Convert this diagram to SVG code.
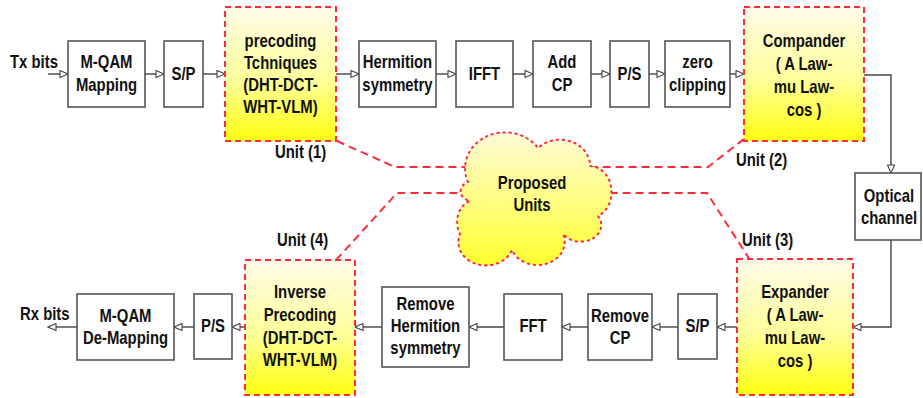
<svg xmlns="http://www.w3.org/2000/svg" width="923" height="398" viewBox="0 0 923 398">
<defs>
<linearGradient id="ug" x1="0" y1="0" x2="0" y2="1">
<stop offset="0" stop-color="#fffbe8"/>
<stop offset="0.55" stop-color="#ffff9a"/>
<stop offset="1" stop-color="#ffff10"/>
</linearGradient>
<linearGradient id="cg" x1="0" y1="0" x2="0" y2="1">
<stop offset="0" stop-color="#fffbd8"/>
<stop offset="1" stop-color="#ffff30"/>
</linearGradient>
<marker id="ar" markerUnits="userSpaceOnUse" markerWidth="11" markerHeight="9" refX="9.5" refY="4.5" orient="auto">
<path d="M1.5,1 L9.5,4.5 L1.5,8 Z" fill="#fff" stroke="#444" stroke-width="1.1"/>
</marker>
</defs>
<style>
.b{fill:#fff;stroke:#555;stroke-width:1.6}
.u{fill:url(#ug);stroke:#ff2a3a;stroke-width:2;stroke-dasharray:6,4}
.t{font-family:"Liberation Sans",Arial,sans-serif;font-weight:bold;font-size:17.5px;fill:#111;text-anchor:middle}
.l{font-family:"Liberation Sans",Arial,sans-serif;font-weight:bold;font-size:17.5px;fill:#111}
.c{fill:none;stroke:#444;stroke-width:1.4;marker-end:url(#ar)}
.r{fill:none;stroke:#ff2a3a;stroke-width:2;stroke-dasharray:8,5}
</style>

<g id="connectors">
<path class="c" d="M48,74 H68"/>
<path class="c" d="M145,74 H164"/>
<path class="c" d="M203,74 H225"/>
<path class="c" d="M336,74 H359"/>
<path class="c" d="M436,74 H456"/>
<path class="c" d="M513,74 H533"/>
<path class="c" d="M591,74 H610"/>
<path class="c" d="M649,74 H665"/>
<path class="c" d="M730,74 H744"/>
<path class="c" d="M864,75 H891 V173"/>
<path class="c" d="M891,240 V327 H853"/>
<path class="c" d="M737,327 H717"/>
<path class="c" d="M678,327 H652"/>
<path class="c" d="M588,327 H562"/>
<path class="c" d="M504,327 H469"/>
<path class="c" d="M382,327 H355"/>
<path class="c" d="M245,327 H232"/>
<path class="c" d="M194,327 H174"/>
<path class="c" d="M77,327 H48"/>
</g>

<g id="unit-links">
<path class="r" d="M337,141 L395,167 H468"/>
<path class="r" d="M744,139 L708,167 H592"/>
<path class="r" d="M336,260 L397,193 H466"/>
<path class="r" d="M750,260 L707,193 H607"/>
</g>

<text class="l" transform="translate(10 68) scale(.85 1)">Tx bits</text>
<text class="l" transform="translate(20 320) scale(.85 1)">Rx bits</text>

<g id="mqam-map"><rect class="b" x="68" y="41" width="77" height="66"/><text class="t" transform="translate(106.5 68) scale(.85 1)">M-QAM</text><text class="t" transform="translate(106.5 91) scale(.85 1)">Mapping</text></g>
<g id="sp1"><rect class="b" x="164" y="41" width="39" height="66"/><text class="t" transform="translate(183.5 80) scale(.85 1)">S/P</text></g>
<g id="precoding"><rect class="u" x="225" y="7" width="111" height="134"/><text class="t" transform="translate(280.5 47) scale(.85 1)">precoding</text><text class="t" transform="translate(280.5 69) scale(.85 1)">Tchniques</text><text class="t" transform="translate(280.5 91) scale(.85 1)">(DHT-DCT-</text><text class="t" transform="translate(280.5 113) scale(.85 1)">WHT-VLM)</text></g>
<g id="hermition"><rect class="b" x="359" y="41" width="77" height="66"/><text class="t" transform="translate(397.5 68) scale(.85 1)">Hermition</text><text class="t" transform="translate(397.5 91) scale(.85 1)">symmetry</text></g>
<g id="ifft"><rect class="b" x="456" y="41" width="57" height="66"/><text class="t" transform="translate(484.5 80) scale(.85 1)">IFFT</text></g>
<g id="addcp"><rect class="b" x="533" y="41" width="58" height="66"/><text class="t" transform="translate(562 68) scale(.85 1)">Add</text><text class="t" transform="translate(562 91) scale(.85 1)">CP</text></g>
<g id="ps1"><rect class="b" x="610" y="41" width="39" height="66"/><text class="t" transform="translate(629.5 80) scale(.85 1)">P/S</text></g>
<g id="zeroclip"><rect class="b" x="665" y="41" width="65" height="66"/><text class="t" transform="translate(697.5 68) scale(.85 1)">zero</text><text class="t" transform="translate(697.5 91) scale(.85 1)">clipping</text></g>
<g id="compander"><rect class="u" x="744" y="7" width="120" height="134"/><text class="t" transform="translate(804 47) scale(.85 1)">Compander</text><text class="t" transform="translate(804 70) scale(.85 1)">( A Law-</text><text class="t" transform="translate(804 93) scale(.85 1)">mu Law-</text><text class="t" transform="translate(804 116) scale(.85 1)">cos )</text></g>
<g id="optical"><rect class="b" x="855" y="173" width="66" height="67"/><text class="t" transform="translate(889 202) scale(.85 1)">Optical</text><text class="t" transform="translate(889 224) scale(.85 1)">channel</text></g>

<g id="expander"><rect class="u" x="737" y="259" width="116" height="136"/><text class="t" transform="translate(795 298) scale(.85 1)">Expander</text><text class="t" transform="translate(795 321) scale(.85 1)">( A Law-</text><text class="t" transform="translate(795 344) scale(.85 1)">mu Law-</text><text class="t" transform="translate(795 367) scale(.85 1)">cos )</text></g>
<g id="sp2"><rect class="b" x="678" y="294" width="39" height="65"/><text class="t" transform="translate(697.5 332) scale(.85 1)">S/P</text></g>
<g id="removecp"><rect class="b" x="588" y="294" width="64" height="66"/><text class="t" transform="translate(620 322) scale(.85 1)">Remove</text><text class="t" transform="translate(620 344) scale(.85 1)">CP</text></g>
<g id="fft"><rect class="b" x="504" y="294" width="58" height="66"/><text class="t" transform="translate(533 332) scale(.85 1)">FFT</text></g>
<g id="removeherm"><rect class="b" x="382" y="287" width="87" height="80"/><text class="t" transform="translate(425.5 310) scale(.85 1)">Remove</text><text class="t" transform="translate(425.5 332) scale(.85 1)">Hermition</text><text class="t" transform="translate(425.5 354) scale(.85 1)">symmetry</text></g>
<g id="invprecoding"><rect class="u" x="245" y="260" width="110" height="135"/><text class="t" transform="translate(300 298) scale(.85 1)">Inverse</text><text class="t" transform="translate(300 321) scale(.85 1)">Precoding</text><text class="t" transform="translate(300 344) scale(.85 1)">(DHT-DCT-</text><text class="t" transform="translate(300 366) scale(.85 1)">WHT-VLM)</text></g>
<g id="ps2"><rect class="b" x="194" y="294" width="38" height="65"/><text class="t" transform="translate(213 332) scale(.85 1)">P/S</text></g>
<g id="mqam-demap"><rect class="b" x="77" y="294" width="97" height="66"/><text class="t" transform="translate(125.5 322) scale(.85 1)">M-QAM</text><text class="t" transform="translate(125.5 344) scale(.85 1)">De-Mapping</text></g>

<g id="cloud">
<path d="M468,182 A40,36 0 0 1 538,148 A30,26 0 0 1 590,166 A22,26 0 0 1 598,216 A20,16 0 0 1 563,234 A26,22 0 0 1 512,250 A26,22 0 0 1 460,234 A18,22 0 0 1 470,201 A12,10 0 0 1 468,182 Z" fill="url(#cg)" stroke="#ff2a3a" stroke-width="2" stroke-dasharray="1.5,4.5" stroke-linecap="round"/>
<text class="t" transform="translate(532 189) scale(.85 1)">Proposed</text><text class="t" transform="translate(532 211) scale(.85 1)">Units</text>
</g>

<text class="l" transform="translate(275 158) scale(.85 1)">Unit (1)</text>
<text class="l" transform="translate(736 166) scale(.85 1)">Unit (2)</text>
<text class="l" transform="translate(742 246) scale(.85 1)">Unit (3)</text>
<text class="l" transform="translate(277 246) scale(.85 1)">Unit (4)</text>
</svg>
